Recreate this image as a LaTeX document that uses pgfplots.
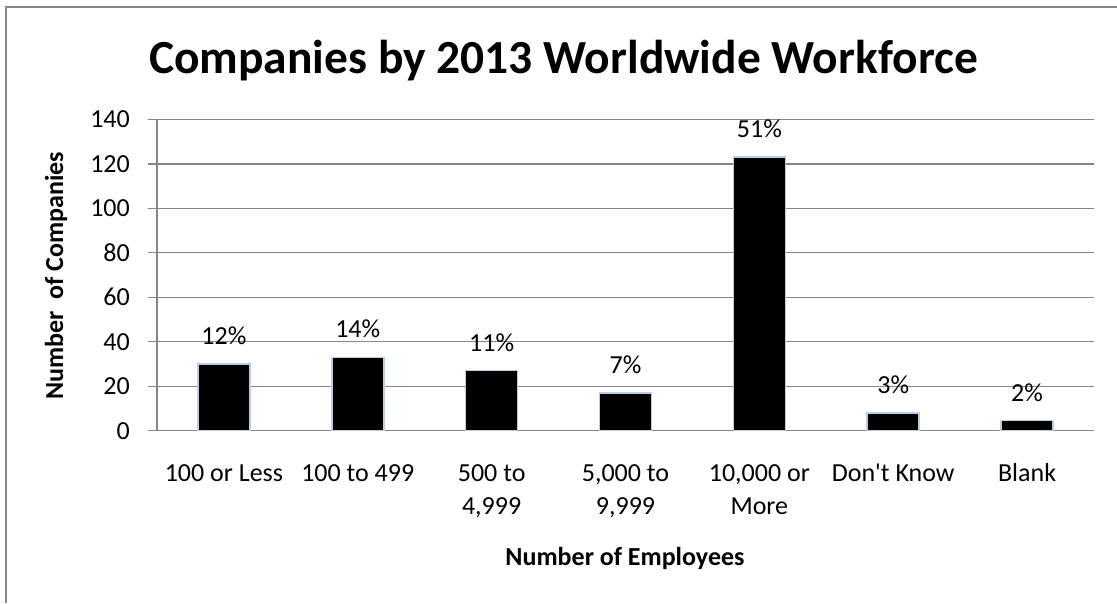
\documentclass[border=0pt]{standalone}
\usepackage{fontspec}
\setmainfont{Carlito}[Ligatures=TeXOff]
\usepackage{pgfplots}
\pgfplotsset{compat=1.18}
\definecolor{gridgray}{RGB}{134,134,134}
\definecolor{barline}{RGB}{185,205,229}
\newcommand{\two}[2]{\begin{tabular}[t]{@{}c@{}}#1\\#2\end{tabular}}
\begin{document}
\begin{tikzpicture}[x=1pt,y=1pt]
\useasboundingbox (0,0) rectangle (1117,603);
\draw[gridgray, line width=1.3pt] (6,0) -- (6,596) -- (1117,596);
\begin{axis}[
  at={(157pt,172.3pt)}, anchor=south west,
  width=937pt, height=311.3pt, scale only axis,
  xmin=-0.5, xmax=6.5, ymin=0, ymax=140,
  ytick={0,20,...,140},
  xtick={0,...,6},
  xticklabels={100 or Less, 100 to 499, {\two{500 to}{4,999}}, {\two{5,000 to}{9,999}}, {\two{10,000 or}{More}}, Don't Know, Blank},
  axis lines*=left,
  axis line style={gridgray, line width=1.3pt},
  ymajorgrids, grid style={gridgray, line width=1.3pt},
  xtick style={draw=none},
  ytick style={gridgray, line width=1.3pt},
  tick align=outside, major tick length=9pt,
  yticklabel style={font=\fontsize{26}{31}\selectfont, anchor=east, inner sep=0pt, xshift=-18pt},
  xticklabel style={font=\fontsize{26}{32.3}\selectfont, anchor=base, inner sep=0pt, yshift=-42pt},
  /pgf/number format/assume math mode=true,
  ybar, bar width=52pt,
  nodes near coords, point meta=explicit symbolic,
  every node near coord/.append style={font=\fontsize{26}{31}\selectfont, anchor=base, inner sep=0pt, yshift=19.4pt},
]
\addplot[fill=black, draw=barline, line width=1.5pt] coordinates {
  (0,30) [12\%]
  (1,33) [14\%]
  (2,27) [11\%]
  (3,17) [7\%]
  (4,123) [51\%]
  (5,8) [3\%]
  (6,4.5) [2\%]
};
\end{axis}
\node[anchor=base, font=\fontsize{47.5}{57}\selectfont\bfseries] at (563.5,529.7) {Companies by 2013 Worldwide Workforce};
\node[rotate=90, font=\fontsize{26}{31}\selectfont\bfseries] at (56,327) {Number\ \ of Companies};
\node[anchor=base, font=\fontsize{26}{31}\selectfont\bfseries] at (625,37.3) {Number of Employees};
\end{tikzpicture}
\end{document}
